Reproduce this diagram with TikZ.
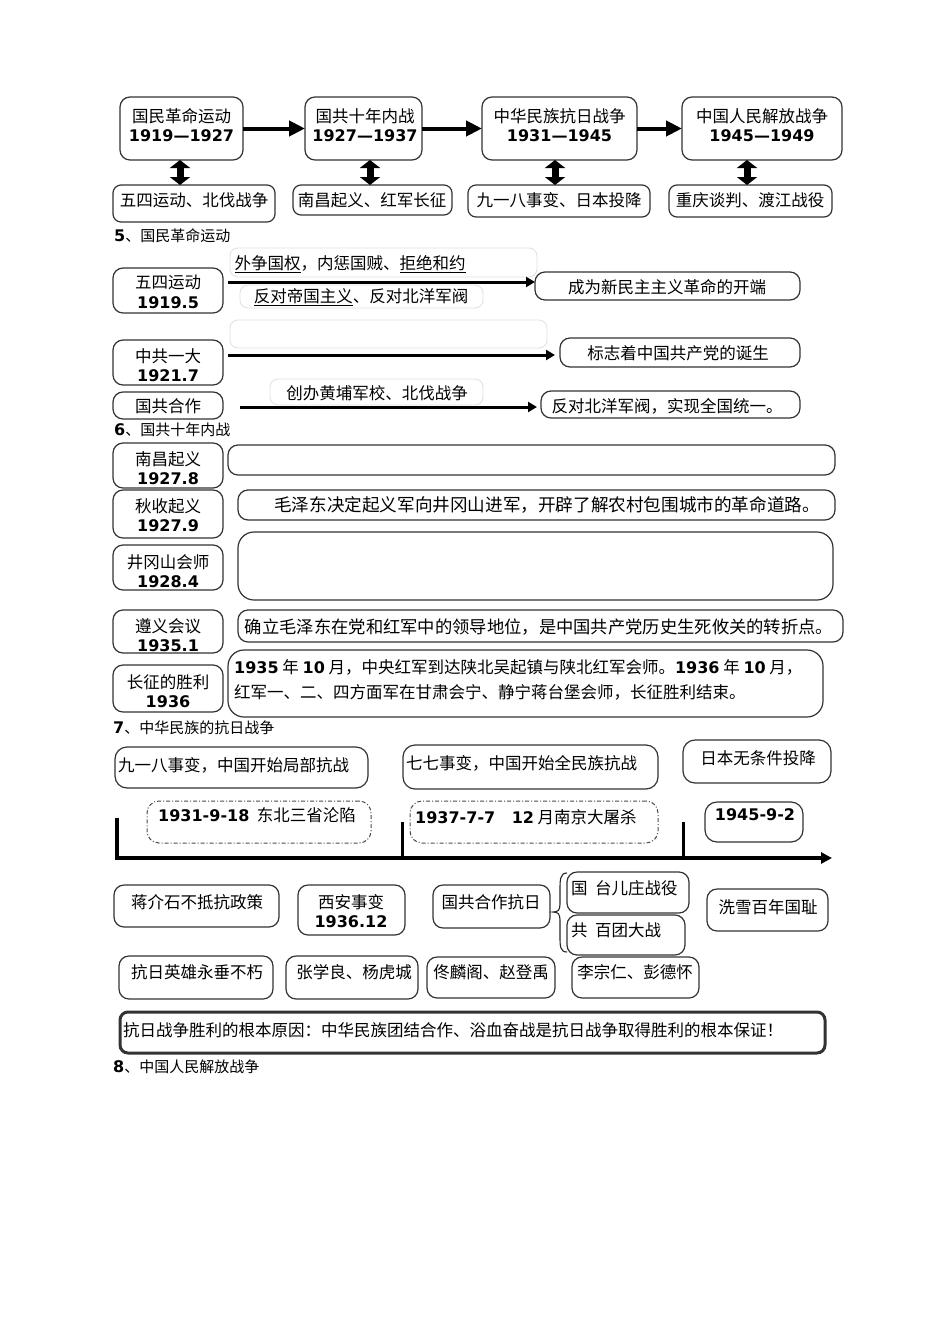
\documentclass[tikz,border=0pt]{standalone}
\usepackage{fontspec}
\setmainfont{Noto Sans CJK SC}
\newfontfamily\vf{DejaVu Sans}
\usetikzlibrary{arrows.meta}
\newcommand\nb[1]{{\vf\bfseries\fontsize{16pt}{19.5pt}\selectfont #1}}
\newcommand\ftx{\fontsize{16.5pt}{19.5pt}\selectfont}
\newcommand\fhd{\fontsize{15pt}{18pt}\selectfont}
\newcommand\bx[6][]{\node[box,#1,minimum width={#5pt-#3pt},minimum height={#6pt-#4pt}] (#2) at ({(#3+#5)/2},{(#4+#6)/2}) {};}
\begin{document}
\begin{tikzpicture}[x=1pt,y=-1pt,
  box/.style={draw=black!80,line width=1.2pt,rounded corners=10pt,inner sep=0pt,outer sep=0pt},
  faint/.style={draw=black!12,line width=0.8pt,rounded corners=8pt},
  dd/.style={draw=black!70,line width=1pt,rounded corners=12pt,dash pattern=on 4pt off 2pt on 1pt off 2pt},
  txt/.style={inner sep=0pt,font=\ftx,align=center},
  hd/.style={inner sep=0pt,font=\fhd,anchor=west},
  bigarr/.style={line width=4pt,-{Triangle[length=16pt,width=15pt]}},
  dblarr/.style={line width=7pt,{Triangle[length=8pt,width=20pt]}-{Triangle[length=8pt,width=20pt]}},
  midarr/.style={line width=3pt,-{Triangle[length=9pt,width=10pt]}},
  axis/.style={line width=3.5pt,-{Triangle[length=11pt,width=11pt]}},
  tick/.style={line width=3pt}]
\useasboundingbox[fill=white] (0,0) rectangle (950,1344);

% ---------- top row ----------
\bx{t1}{120}{97}{243}{160}
\bx{t2}{305}{97}{422}{160}
\bx{t3}{482}{97}{637}{160}
\bx{t4}{682}{97}{842}{160}
\node[txt] (tt1) at (181.5,125) {国民革命运动\\\nb{1919—1927}};
\node[txt] (tt2) at (365,125) {国共十年内战\\\nb{1927—1937}};
\node[txt] (tt3) at (559.5,125) {中华民族抗日战争\\\nb{1931—1945}};
\node[txt] (tt4) at (762,125) {中国人民解放战争\\\nb{1945—1949}};
\bx[rounded corners=8pt]{b1}{113}{185}{275}{222}
\bx[rounded corners=8pt]{b2}{293}{185}{452}{215}
\bx[rounded corners=8pt]{b3}{468}{185}{650}{217}
\bx[rounded corners=8pt]{b4}{669}{185}{832}{217}
\node[txt] (tb1) at (194,200) {五四运动、北伐战争};
\node[txt] (tb2) at (372,200) {南昌起义、红军长征};
\node[txt] (tb3) at (559,200) {九一八事变、日本投降};
\node[txt] (tb4) at (750,200) {重庆谈判、渡江战役};
\draw[bigarr] (t1.east) -- (t2.west);
\draw[bigarr] (t2.east) -- (t3.west);
\draw[bigarr] (t3.east) -- (t4.west);
\draw[dblarr] ([xshift=-1.5pt]t1.south) -- ([xshift=-1.5pt]t1.south |- b1.north);
\draw[dblarr] ([xshift=6.5pt]t2.south) -- ([xshift=6.5pt]t2.south |- b2.north);
\draw[dblarr] ([xshift=-4.5pt]t3.south) -- ([xshift=-4.5pt]t3.south |- b3.north);
\draw[dblarr] ([xshift=-15pt]t4.south) -- ([xshift=-15pt]t4.south |- b4.north);

% ---------- section 5 ----------
\node[hd] (h5) at (114,236) {\nb{5}、国民革命运动};
\bx{s1}{113}{268}{223}{313}
\node[txt] (ts1) at (168,292) {五四运动\\\nb{1919.5}};
\bx[faint]{f1}{230}{248}{537}{277}
\node[txt] (tf1) at (350,264) {\underline{外争国权}，内惩国贼、\underline{拒绝和约}};
\bx[faint]{f2}{240}{285}{483}{308}
\node[txt] (tf2) at (361,297) {\underline{反对帝国主义}、反对北洋军阀};
\bx{r1}{535}{272}{800}{300}
\node[txt] (tr1) at (667,287) {成为新民主主义革命的开端};
\draw[midarr] ([xshift=5pt]s1.east |- 0,282) -- (r1.west |- 0,282);

\bx{s2}{113}{340}{223}{385}
\node[txt] (ts2) at (168,365) {中共一大\\\nb{1921.7}};
\bx[faint]{f3}{230}{320}{547}{348}
\bx{r2}{560}{338}{800}{367}
\node[txt] (tr2) at (678,353) {标志着中国共产党的诞生};
\draw[midarr] ([xshift=5pt]s2.east |- 0,355) -- ([xshift=-5pt]r2.west |- 0,355);

\bx{s3}{113}{392}{223}{419}
\node[txt] (ts3) at (168,406) {国共合作};
\bx[faint]{f4}{270}{379}{483}{405}
\node[txt] (tf4) at (377,393) {创办黄埔军校、北伐战争};
\bx{r3}{541}{391}{800}{418}
\node[txt] (tr3) at (667,406) {反对北洋军阀，实现全国统一。};
\draw[midarr] ([xshift=17pt]s3.east |- 0,407) -- ([xshift=-4pt]r3.west |- 0,407);

% ---------- section 6 ----------
\node[hd] (h6) at (114,430) {\nb{6}、国共十年内战};
\bx{n1}{113}{443}{223}{488}
\node[txt] (tn1) at (168,468) {南昌起义\\\nb{1927.8}};
\bx{e1}{228}{445}{835}{475}
\bx{n2}{113}{490}{223}{538}
\node[txt] (tn2) at (168,515) {秋收起义\\\nb{1927.9}};
\bx{e2}{238}{490}{835}{520}
\node[txt,font=\fontsize{17.6pt}{20pt}\selectfont] (te2) at (547,505) {毛泽东决定起义军向井冈山进军，开辟了解农村包围城市的革命道路。};
\bx{n3}{113}{545}{223}{590}
\node[txt] (tn3) at (168,571) {井冈山会师\\\nb{1928.4}};
\bx[rounded corners=16pt]{e3}{238}{532}{833}{600}
\bx{n4}{113}{610}{223}{653}
\node[txt] (tn4) at (168,635) {遵义会议\\\nb{1935.1}};
\bx{e4}{238}{610}{843}{642}
\node[txt,font=\fontsize{17.3pt}{20pt}\selectfont] (te4) at (539,627) {确立毛泽东在党和红军中的领导地位，是中国共产党历史生死攸关的转折点。};
\bx{n5}{113}{665}{223}{712}
\node[txt] (tn5) at (168,691) {长征的胜利\\\nb{1936}};
\bx[rounded corners=16pt]{e5}{228}{650}{823}{717}
\node[txt,align=left,anchor=west,font=\fontsize{16.5pt}{25pt}\selectfont] (te5) at (234,680) {\nb{1935} 年 \nb{10} 月，中央红军到达陕北吴起镇与陕北红军会师。\nb{1936} 年 \nb{10} 月，\\红军一、二、四方面军在甘肃会宁、静宁蒋台堡会师，长征胜利结束。};

% ---------- section 7 ----------
\node[hd] (h7) at (113,728) {\nb{7}、中华民族的抗日战争};
\bx[rounded corners=12pt]{k1}{115}{747}{368}{788}
\node[txt,anchor=west] (tk1) at (118,765) {九一八事变，中国开始局部抗战};
\bx[rounded corners=12pt]{k2}{403}{745}{658}{789}
\node[txt,anchor=west] (tk2) at (406,763) {七七事变，中国开始全民族抗战};
\bx[rounded corners=12pt]{k3}{683}{740}{831}{783}
\node[txt] (tk3) at (758,758) {日本无条件投降};
\bx[dd]{d1}{147}{801}{371}{843}
\node[txt,anchor=west] (td1) at (158,815) {\nb{1931-9-18}\ \ 东北三省沦陷};
\bx[dd]{d2}{410}{801}{658}{843}
\node[txt,anchor=west] (td2) at (415,817) {\nb{1937-7-7}\quad\nb{12} 月南京大屠杀};
\bx[rounded corners=12pt]{d3}{705}{802}{803}{842}
\node[txt] (td3) at (755,815) {\nb{1945-9-2}};

\coordinate (tk0) at (117,818);
\coordinate (ax0) at (117,858);
\coordinate (ax1) at (832,858);
\coordinate (tka) at (402,822);
\coordinate (tkb) at (402,858);
\coordinate (tkc) at (683,822);
\coordinate (tkd) at (683,858);
\draw[axis] (tk0) -- (ax0) -- (ax1);
\draw[tick] (tka) -- (tkb);
\draw[tick] (tkc) -- (tkd);

\bx{m1}{114}{885}{279}{927}
\node[txt] (tm1) at (197,902) {蒋介石不抵抗政策};
\bx{m2}{298}{885}{405}{935}
\node[txt] (tm2) at (351,911) {西安事变\\\nb{1936.12}};
\bx{m3}{433}{885}{550}{928}
\node[txt] (tm3) at (491,902) {国共合作抗日};
\draw[line width=1.1pt,black!85] (567,873) .. controls (560,873) and (560,880) .. (560,890) -- (560,904) .. controls (560,910) and (558,912) .. (553,912) .. controls (558,912) and (560,914) .. (560,920) -- (560,936) .. controls (560,946) and (560,952) .. (567,952);
\bx{m4}{567}{872}{689}{913}
\node[txt,anchor=west] (tm4) at (571,888) {国\ \ 台儿庄战役};
\bx{m5}{567}{915}{685}{955}
\node[txt,anchor=west] (tm5) at (571,930) {共\ \ 百团大战};
\bx{m6}{707}{889}{828}{931}
\node[txt] (tm6) at (768,907) {洗雪百年国耻};
\bx{p1}{119}{956}{273}{999}
\node[txt] (tp1) at (197,972) {抗日英雄永垂不朽};
\bx{p2}{286}{956}{418}{999}
\node[txt] (tp2) at (354,972) {张学良、杨虎城};
\bx{p3}{427}{957}{555}{998}
\node[txt] (tp3) at (491,972) {佟麟阁、赵登禹};
\bx{p4}{572}{957}{699}{998}
\node[txt] (tp4) at (635,972) {李宗仁、彭德怀};
\bx[line width=3pt,rounded corners=8pt]{big}{120}{1012}{825}{1053}
\node[txt,anchor=west] (tbig) at (123,1030) {抗日战争胜利的根本原因：中华民族团结合作、浴血奋战是抗日战争取得胜利的根本保证！};
\node[hd] (h8) at (113,1067) {\nb{8}、中国人民解放战争};
\end{tikzpicture}
\end{document}
